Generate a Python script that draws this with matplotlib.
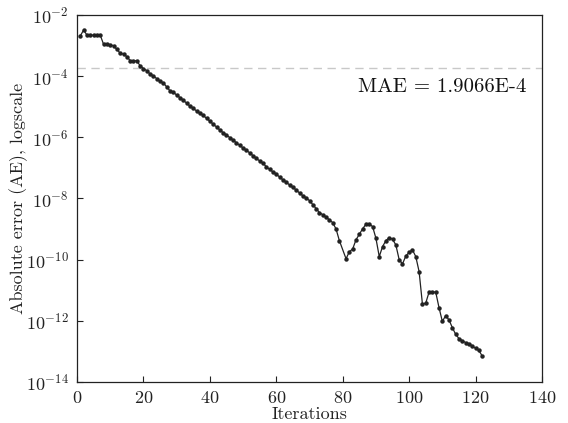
import numpy as np
import matplotlib
matplotlib.use("Agg")
import matplotlib.pyplot as plt

plt.rcParams["font.family"] = "serif"
plt.rcParams["font.serif"] = ["cmr10", "DejaVu Serif"]
plt.rcParams["mathtext.fontset"] = "cm"
plt.rcParams["axes.formatter.use_mathtext"] = True

# Iteration index and log10 of the absolute error at that iteration
iterations = [1, 2, 3, 4, 5, 6, 7, 8, 9, 10,
              11, 12, 13, 14, 15, 16, 17, 18, 19, 20,
              21, 22, 23, 24, 25, 26, 27, 28, 29, 30,
              31, 32, 33, 34, 35, 36, 37, 38, 39, 40,
              41, 42, 43, 44, 45, 46, 47, 48, 49, 50,
              51, 52, 53, 54, 55, 56, 57, 58, 59, 60,
              61, 62, 63, 64, 65, 66, 67, 68, 69, 70,
              71, 72, 73, 74, 75, 76, 77, 78, 79, 81,
              82, 83, 84, 85, 86, 87, 88, 89, 90, 91,
              92, 93, 94, 95, 96, 97, 98, 99, 100, 101,
              102, 103, 104, 105, 106, 107, 108, 109, 110, 111,
              112, 113, 114, 115, 116, 117, 118, 119, 120, 121,
              122]
log_error = [-2.68, -2.49, -2.66, -2.66, -2.66, -2.66, -2.66, -2.96, -2.96, -2.97,
             -3.01, -3.12, -3.25, -3.28, -3.36, -3.49, -3.49, -3.50, -3.66, -3.75,
             -3.82, -3.93, -3.99, -4.08, -4.17, -4.22, -4.35, -4.48, -4.52, -4.62,
             -4.70, -4.79, -4.88, -4.98, -5.05, -5.14, -5.22, -5.28, -5.38, -5.47,
             -5.57, -5.66, -5.76, -5.85, -5.92, -6.01, -6.09, -6.18, -6.26, -6.35,
             -6.42, -6.51, -6.60, -6.69, -6.77, -6.85, -6.96, -7.05, -7.13, -7.20,
             -7.30, -7.39, -7.46, -7.56, -7.64, -7.72, -7.82, -7.91, -7.98, -8.07,
             -8.20, -8.33, -8.46, -8.53, -8.61, -8.70, -8.79, -9.00, -9.38, -9.97,
             -9.74, -9.65, -9.35, -9.17, -8.99, -8.84, -8.83, -8.92, -9.30, -9.90,
             -9.57, -9.38, -9.28, -9.33, -9.52, -10.00, -10.14, -9.88, -9.76, -9.68,
             -9.90, -10.39, -11.45, -11.42, -11.06, -11.06, -11.06, -11.57, -12.02, -11.83,
             -11.97, -12.22, -12.44, -12.58, -12.65, -12.71, -12.75, -12.82, -12.90, -12.97,
             -13.15]
abs_error = 10.0 ** np.array(log_error)

mae = 1.9066e-4
mae_label = "MAE = 1.9066E-4"

fig = plt.figure(figsize=(5.68, 4.23), dpi=100)
ax = fig.add_axes([0.1356, 0.097, 0.8186, 0.8675])

ax.axhline(mae, color="#c8c8c8", lw=1.0, ls=(0, (6, 4)), zorder=1)
ax.plot(iterations, abs_error, color="#222222", lw=0.9, marker="o",
        markersize=3.2, markerfacecolor="#222222", markeredgewidth=0, zorder=3)

ax.set_yscale("log")
ax.set_xlim(0, 140)
ax.set_ylim(1e-14, 1e-2)
ax.set_yticks([10.0 ** k for k in range(-14, -1, 2)])
ax.yaxis.set_minor_locator(matplotlib.ticker.NullLocator())
ax.set_xticks(range(0, 141, 20))

ax.tick_params(direction="in", length=4, width=0.8, labelsize=13,
               colors="#222222", top=False, right=False, pad=6)
for s in ax.spines.values():
    s.set_color("#222222")
    s.set_linewidth(0.9)

ax.set_xlabel("Iterations", fontsize=13, labelpad=0, color="#222222")
ax.set_ylabel("Absolute error (AE), logscale", fontsize=13, labelpad=-1.5, color="#222222")

ax.text(84.5, 10 ** -4.35, mae_label, fontsize=15, va="center", ha="left",
        color="#111111")

fig.savefig("out.png", dpi=100)
